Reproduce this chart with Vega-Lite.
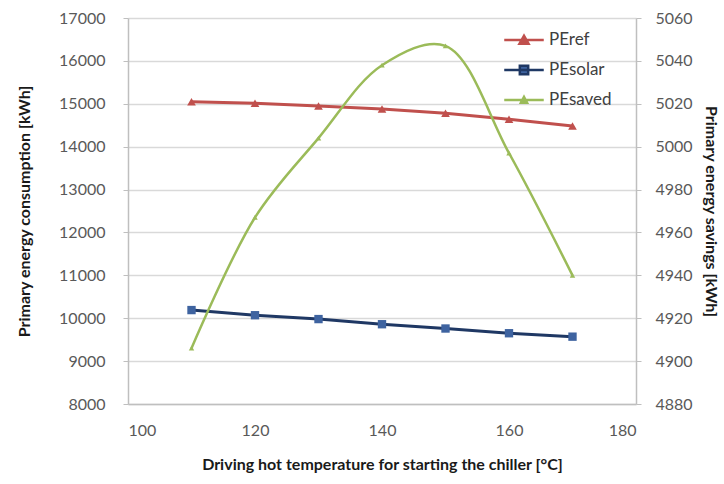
{
  "$schema": "https://vega.github.io/schema/vega-lite/v6.json",
  "width": 508,
  "height": 386,
  "autosize": {"type": "none"},
  "padding": {"left": 128, "top": 18, "right": 88, "bottom": 80},
  "background": "white",
  "config": {
    "font": "Lato",
    "view": {"stroke": null},
    "axis": {
      "labelFont": "Lato",
      "labelFontSize": 16,
      "labelColor": "#595959",
      "titleFont": "Lato",
      "titleFontSize": 16,
      "titleFontWeight": "bold",
      "titleColor": "#1a1a1a",
      "domainColor": "#BFBFBF",
      "domainWidth": 1.5,
      "tickColor": "#BFBFBF",
      "tickSize": 5,
      "gridColor": "#D9D9D9",
      "gridWidth": 1.5,
      "format": "d"
    }
  },
  "data": {
    "values": [
      {"T": 110, "series": "PEref", "value": 15050},
      {"T": 120, "series": "PEref", "value": 15010},
      {"T": 130, "series": "PEref", "value": 14950},
      {"T": 140, "series": "PEref", "value": 14880},
      {"T": 150, "series": "PEref", "value": 14780},
      {"T": 160, "series": "PEref", "value": 14640},
      {"T": 170, "series": "PEref", "value": 14480},
      {"T": 110, "series": "PEsolar", "value": 10190},
      {"T": 120, "series": "PEsolar", "value": 10070},
      {"T": 130, "series": "PEsolar", "value": 9980},
      {"T": 140, "series": "PEsolar", "value": 9860},
      {"T": 150, "series": "PEsolar", "value": 9760},
      {"T": 160, "series": "PEsolar", "value": 9650},
      {"T": 170, "series": "PEsolar", "value": 9570},
      {"T": 110, "series": "PEsaved", "value": 4906},
      {"T": 120, "series": "PEsaved", "value": 4967},
      {"T": 130, "series": "PEsaved", "value": 5004},
      {"T": 140, "series": "PEsaved", "value": 5038},
      {"T": 150, "series": "PEsaved", "value": 5047},
      {"T": 160, "series": "PEsaved", "value": 4997},
      {"T": 170, "series": "PEsaved", "value": 4940}
    ]
  },
  "encoding": {
    "x": {
      "field": "T",
      "type": "quantitative",
      "scale": {"domain": [100, 180], "nice": false},
      "axis": {
        "values": [100, 120, 140, 160, 180],
        "grid": false,
        "ticks": false,
        "labelPadding": 18,
        "title": "Driving hot  temperature for starting the chiller [°C]",
        "titlePadding": 18
      }
    }
  },
  "layer": [
    {
      "transform": [{"filter": "datum.series !== 'PEsaved'"}],
      "encoding": {
        "y": {
          "field": "value",
          "type": "quantitative",
          "scale": {"domain": [8000, 17000], "nice": false, "zero": false},
          "axis": {
            "orient": "left",
            "values": [8000, 9000, 10000, 11000, 12000, 13000, 14000, 15000, 16000, 17000],
            "grid": true,
            "labelPadding": 18,
            "title": "Primary energy consumption [kWh]",
            "titlePadding": 26
          }
        }
      },
      "layer": [
        {
          "mark": {"type": "line", "strokeWidth": 3},
          "encoding": {
            "color": {
              "field": "series",
              "type": "nominal",
              "scale": {"domain": ["PEref", "PEsolar", "PEsaved"], "range": ["#C0504D", "#1F3864", "#9BBB59"]},
              "legend": {
                "title": null,
                "orient": "none",
                "legendX": 387,
                "legendY": 13,
                "padding": 0,
                "symbolType": "M-2.6,0H2.6M-0.6,0.5L0,-0.55L0.6,0.5Z",
                "symbolSize": 231,
                "symbolStrokeWidth": 2.5,
                "labelOffset": 16,
                "labelFont": "Lato",
                "labelFontSize": 17,
                "labelColor": "#404040",
                "rowPadding": 11,
                "encode": {
                  "symbols": {
                    "update": {
                      "shape": {"signal": "datum.value === 'PEsolar' ? 'M-2.6,0H2.6M-0.55,-0.55H0.55V0.55H-0.55Z' : datum.value === 'PEsaved' ? 'M-2.6,0H2.6M-0.4,0.35L0,-0.4L0.4,0.35Z' : 'M-2.6,0H2.6M-0.6,0.5L0,-0.55L0.6,0.5Z'"},
                      "fill": {"signal": "datum.value === 'PEsolar' ? '#3E63A0' : datum.value === 'PEsaved' ? '#9BBB59' : '#C0504D'"}
                    }
                  }
                }
              }
            }
          }
        },
        {
          "transform": [{"filter": "datum.series === 'PEref'"}],
          "mark": {"type": "point", "filled": true, "opacity": 1, "size": 75, "shape": "triangle-up", "color": "#C0504D"}
        },
        {
          "transform": [{"filter": "datum.series === 'PEsolar'"}],
          "mark": {"type": "point", "filled": true, "opacity": 1, "size": 70, "shape": "square", "color": "#3E63A0"}
        }
      ]
    },
    {
      "transform": [{"filter": "datum.series === 'PEsaved'"}],
      "encoding": {
        "y": {
          "field": "value",
          "type": "quantitative",
          "scale": {"domain": [4880, 5060], "nice": false, "zero": false},
          "axis": {
            "orient": "right",
            "values": [4880, 4900, 4920, 4940, 4960, 4980, 5000, 5020, 5040, 5060],
            "grid": false,
            "labelPadding": 14,
            "title": "Primary energy savings [kWh]",
            "titlePadding": 10
          }
        }
      },
      "layer": [
        {
          "mark": {"type": "line", "strokeWidth": 2.5, "interpolate": "catmull-rom"},
          "encoding": {
            "color": {"field": "series", "type": "nominal"}
          }
        },
        {
          "mark": {"type": "point", "filled": true, "opacity": 1, "size": 30, "shape": "triangle-up", "color": "#9BBB59"}
        }
      ]
    }
  ],
  "resolve": {"scale": {"y": "independent"}}
}
